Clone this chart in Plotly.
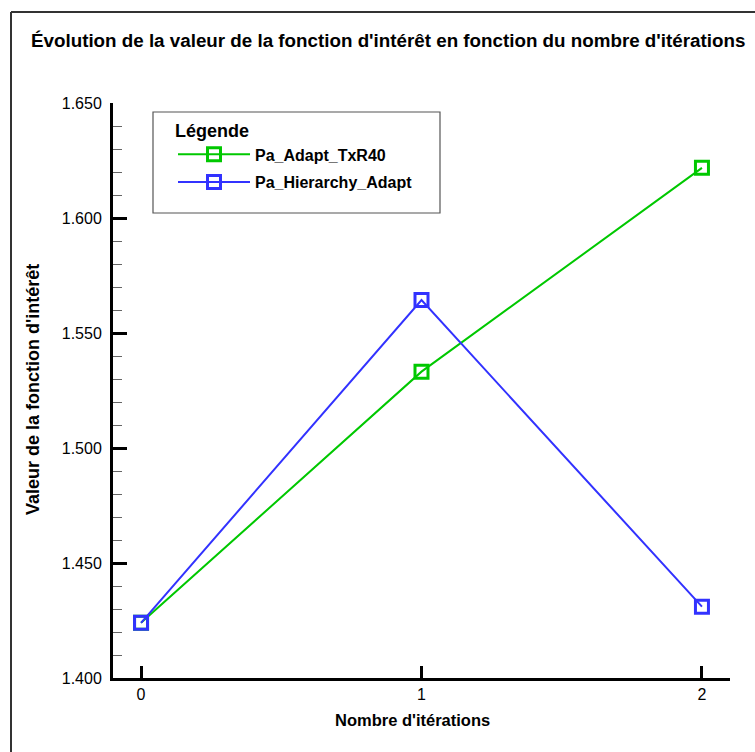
import plotly.graph_objects as go

iterations = [0, 1, 2]
adapt_txr40 = [1.4240, 1.5332, 1.6218]
hierarchy_adapt = [1.4240, 1.5643, 1.4310]
series_names = ["Pa_Adapt_TxR40", "Pa_Hierarchy_Adapt"]
y_tickvals = [1.40, 1.45, 1.50, 1.55, 1.60, 1.65]
x_tickvals = [0, 1, 2]

W, H = 755, 752
FONT = "Liberation Sans, Arial, Helvetica, sans-serif"

def px(x):
    return x / W

def py(y):
    return (H - y) / H

fig = go.Figure()
fig.add_trace(go.Scatter(
    x=iterations, y=adapt_txr40, name=series_names[0], mode="lines+markers",
    legendgroup="a",
    line=dict(color="rgb(0,200,0)", width=2),
    marker=dict(symbol="square-open", size=13, color="rgb(0,200,0)",
                line=dict(width=3, color="rgb(0,200,0)")),
))
fig.add_trace(go.Scatter(
    x=iterations, y=hierarchy_adapt, name=series_names[1], mode="lines+markers",
    legendgroup="b",
    line=dict(color="rgb(50,50,255)", width=2),
    marker=dict(symbol="square-open", size=13, color="rgb(50,50,255)",
                line=dict(width=3, color="rgb(50,50,255)")),
))

fig.update_layout(
    width=W, height=H, autosize=False,
    margin=dict(l=0, r=0, t=0, b=0, pad=0, autoexpand=False),
    paper_bgcolor="white", plot_bgcolor="white",
    font=dict(family=FONT, color="black", size=16),
    showlegend=True,
    legend=dict(
        x=px(173), y=py(114), xanchor="left", yanchor="top",
        bgcolor="rgba(0,0,0,0)", borderwidth=0,
        title=dict(text="Légende", font=dict(size=18, family=FONT, weight="bold")),
        font=dict(size=16, family=FONT, color="black", weight="bold"),
        itemwidth=72, tracegroupgap=4,
    ),
    xaxis=dict(
        domain=[px(113), px(730)], range=[-0.1, 2.1],
        showgrid=False, zeroline=False, automargin=False,
        showline=True, linecolor="black", linewidth=3,
        tickmode="array", tickvals=x_tickvals, ticktext=[str(v) for v in x_tickvals],
        ticks="inside", ticklen=12, tickwidth=3, tickcolor="black",
        tickfont=dict(size=16, family=FONT), ticklabelstandoff=0,
    ),
    yaxis=dict(
        domain=[py(678), py(103)], range=[1.40, 1.65],
        showgrid=False, zeroline=False, automargin=False,
        showline=True, linecolor="black", linewidth=3,
        tickmode="array", tickvals=y_tickvals, tickformat=".3f",
        ticks="inside", ticklen=14, tickwidth=3, tickcolor="black",
        tickfont=dict(size=16, family=FONT), ticklabelstandoff=5,
        minor=dict(dtick=0.01, ticks="inside", ticklen=9, tickwidth=1,
                   tickcolor="#666666", showgrid=False),
    ),
    shapes=[
        dict(type="line", xref="paper", yref="paper",
             x0=px(11), x1=1.0, y0=py(12), y1=py(12),
             line=dict(color="#333333", width=2), layer="above"),
        dict(type="line", xref="paper", yref="paper",
             x0=px(11), x1=px(11), y0=0.0, y1=py(12),
             line=dict(color="#333333", width=2), layer="above"),
        dict(type="rect", xref="paper", yref="paper",
             x0=px(153), x1=px(440), y0=py(213), y1=py(112),
             line=dict(color="#555555", width=1.2), fillcolor="white", layer="below"),
    ],
    annotations=[
        dict(text="<b>Évolution de la valeur de la fonction d'intérêt en fonction du nombre d'itérations</b>",
             xref="paper", yref="paper", x=px(388), y=py(40), xanchor="center", yanchor="middle",
             showarrow=False, font=dict(size=18.8, family=FONT)),
        dict(text="<b>Valeur de la fonction d'intérêt</b>",
             xref="paper", yref="paper", x=px(33), y=py(390), xanchor="center", yanchor="middle",
             textangle=-90, showarrow=False, font=dict(size=18, family=FONT)),
        dict(text="<b>Nombre d'itérations</b>",
             xref="paper", yref="paper", x=px(412), y=py(720), xanchor="center", yanchor="middle",
             showarrow=False, font=dict(size=16.5, family=FONT)),
    ],
)

fig.write_html("out.html", config={"displayModeBar": False},
               post_script="document.body.style.margin='0';document.body.style.overflow='hidden';")
